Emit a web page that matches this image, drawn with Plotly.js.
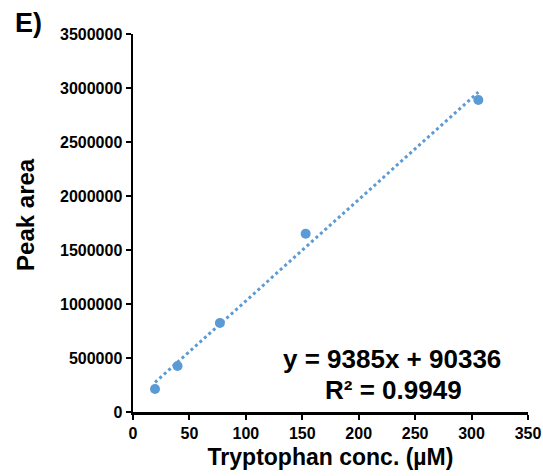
<!DOCTYPE html>
<html>
<head>
<meta charset="utf-8">
<script src="https://cdn.plot.ly/plotly-3.0.1.min.js"></script>
<style>html,body{margin:0;padding:0;background:#fff}#chart{width:543px;height:476px}</style>
</head>
<body>
<div id="chart"></div>
<script>
// Data
const concentration = [19.5, 39.5, 77, 153, 306];          // Tryptophan conc. (µM)
const peakArea = [213000, 426000, 824000, 1651000, 2889000]; // Peak area
const trendSlope = 9385;
const trendIntercept = 90336;
const trendX = [19.5, 306];
const xTicks = [0, 50, 100, 150, 200, 250, 300, 350];
const yTicks = [0, 500000, 1000000, 1500000, 2000000, 2500000, 3000000, 3500000];
const xTitle = "Tryptophan conc. (µM)";
const yTitle = "Peak area";
const equationText = "y = 9385x + 90336";
const r2Text = "R² = 0.9949";
const panelLabel = "E)";

const trendY = trendX.map(x => trendSlope * x + trendIntercept);
const blue = "#5B9BD5";
const fontFam = "Liberation Sans, Arial, sans-serif";

const traces = [
  {
    x: trendX, y: trendY, type: "scatter", mode: "lines",
    line: {color: blue, width: 3, dash: "dot"},
    hoverinfo: "skip", showlegend: false
  },
  {
    x: concentration, y: peakArea, type: "scatter", mode: "markers",
    marker: {color: blue, size: 10},
    showlegend: false
  }
];

const axisCommon = {
  showgrid: false, zeroline: false, showline: true,
  linecolor: "#000", linewidth: 2.5,
  ticks: "outside", ticklen: 5, tickwidth: 2, tickcolor: "#000",
  tickfont: {family: fontFam, size: 16, color: "#000", weight: "bold"}
};

const layout = {
  width: 543, height: 476,
  margin: {l: 133, r: 15, t: 34, b: 64},
  paper_bgcolor: "#fff", plot_bgcolor: "#fff",
  showlegend: false,
  xaxis: Object.assign({}, axisCommon, {
    range: [0, 350], tickvals: xTicks, ticktext: xTicks.map(String),
    title: {text: xTitle, standoff: 8,
            font: {family: fontFam, size: 23, color: "#000", weight: "bold"}}
  }),
  yaxis: Object.assign({}, axisCommon, {
    range: [0, 3500000], tickvals: yTicks, ticktext: yTicks.map(String),
    ticksuffix: "\u00a0"
  }),
  annotations: [
    {text: yTitle, xref: "paper", yref: "paper", x: -0.271, y: 0.524,
     xanchor: "center", yanchor: "middle", textangle: -90, showarrow: false,
     font: {family: fontFam, size: 24, color: "#000", weight: "bold"}},
    {text: panelLabel, xref: "paper", yref: "paper", x: -0.305, y: 1.03,
     xanchor: "left", yanchor: "middle", showarrow: false,
     font: {family: fontFam, size: 27, color: "#000", weight: "bold"}},
    {text: equationText, xref: "x", yref: "y", x: 229.5, y: 491000,
     xanchor: "center", yanchor: "middle", showarrow: false,
     font: {family: fontFam, size: 26, color: "#000", weight: "bold"}},
    {text: r2Text, xref: "x", yref: "y", x: 230.5, y: 204000,
     xanchor: "center", yanchor: "middle", showarrow: false,
     font: {family: fontFam, size: 26, color: "#000", weight: "bold"}}
  ]
};

Plotly.newPlot("chart", traces, layout, {displayModeBar: false, staticPlot: true});
</script>
</body>
</html>
